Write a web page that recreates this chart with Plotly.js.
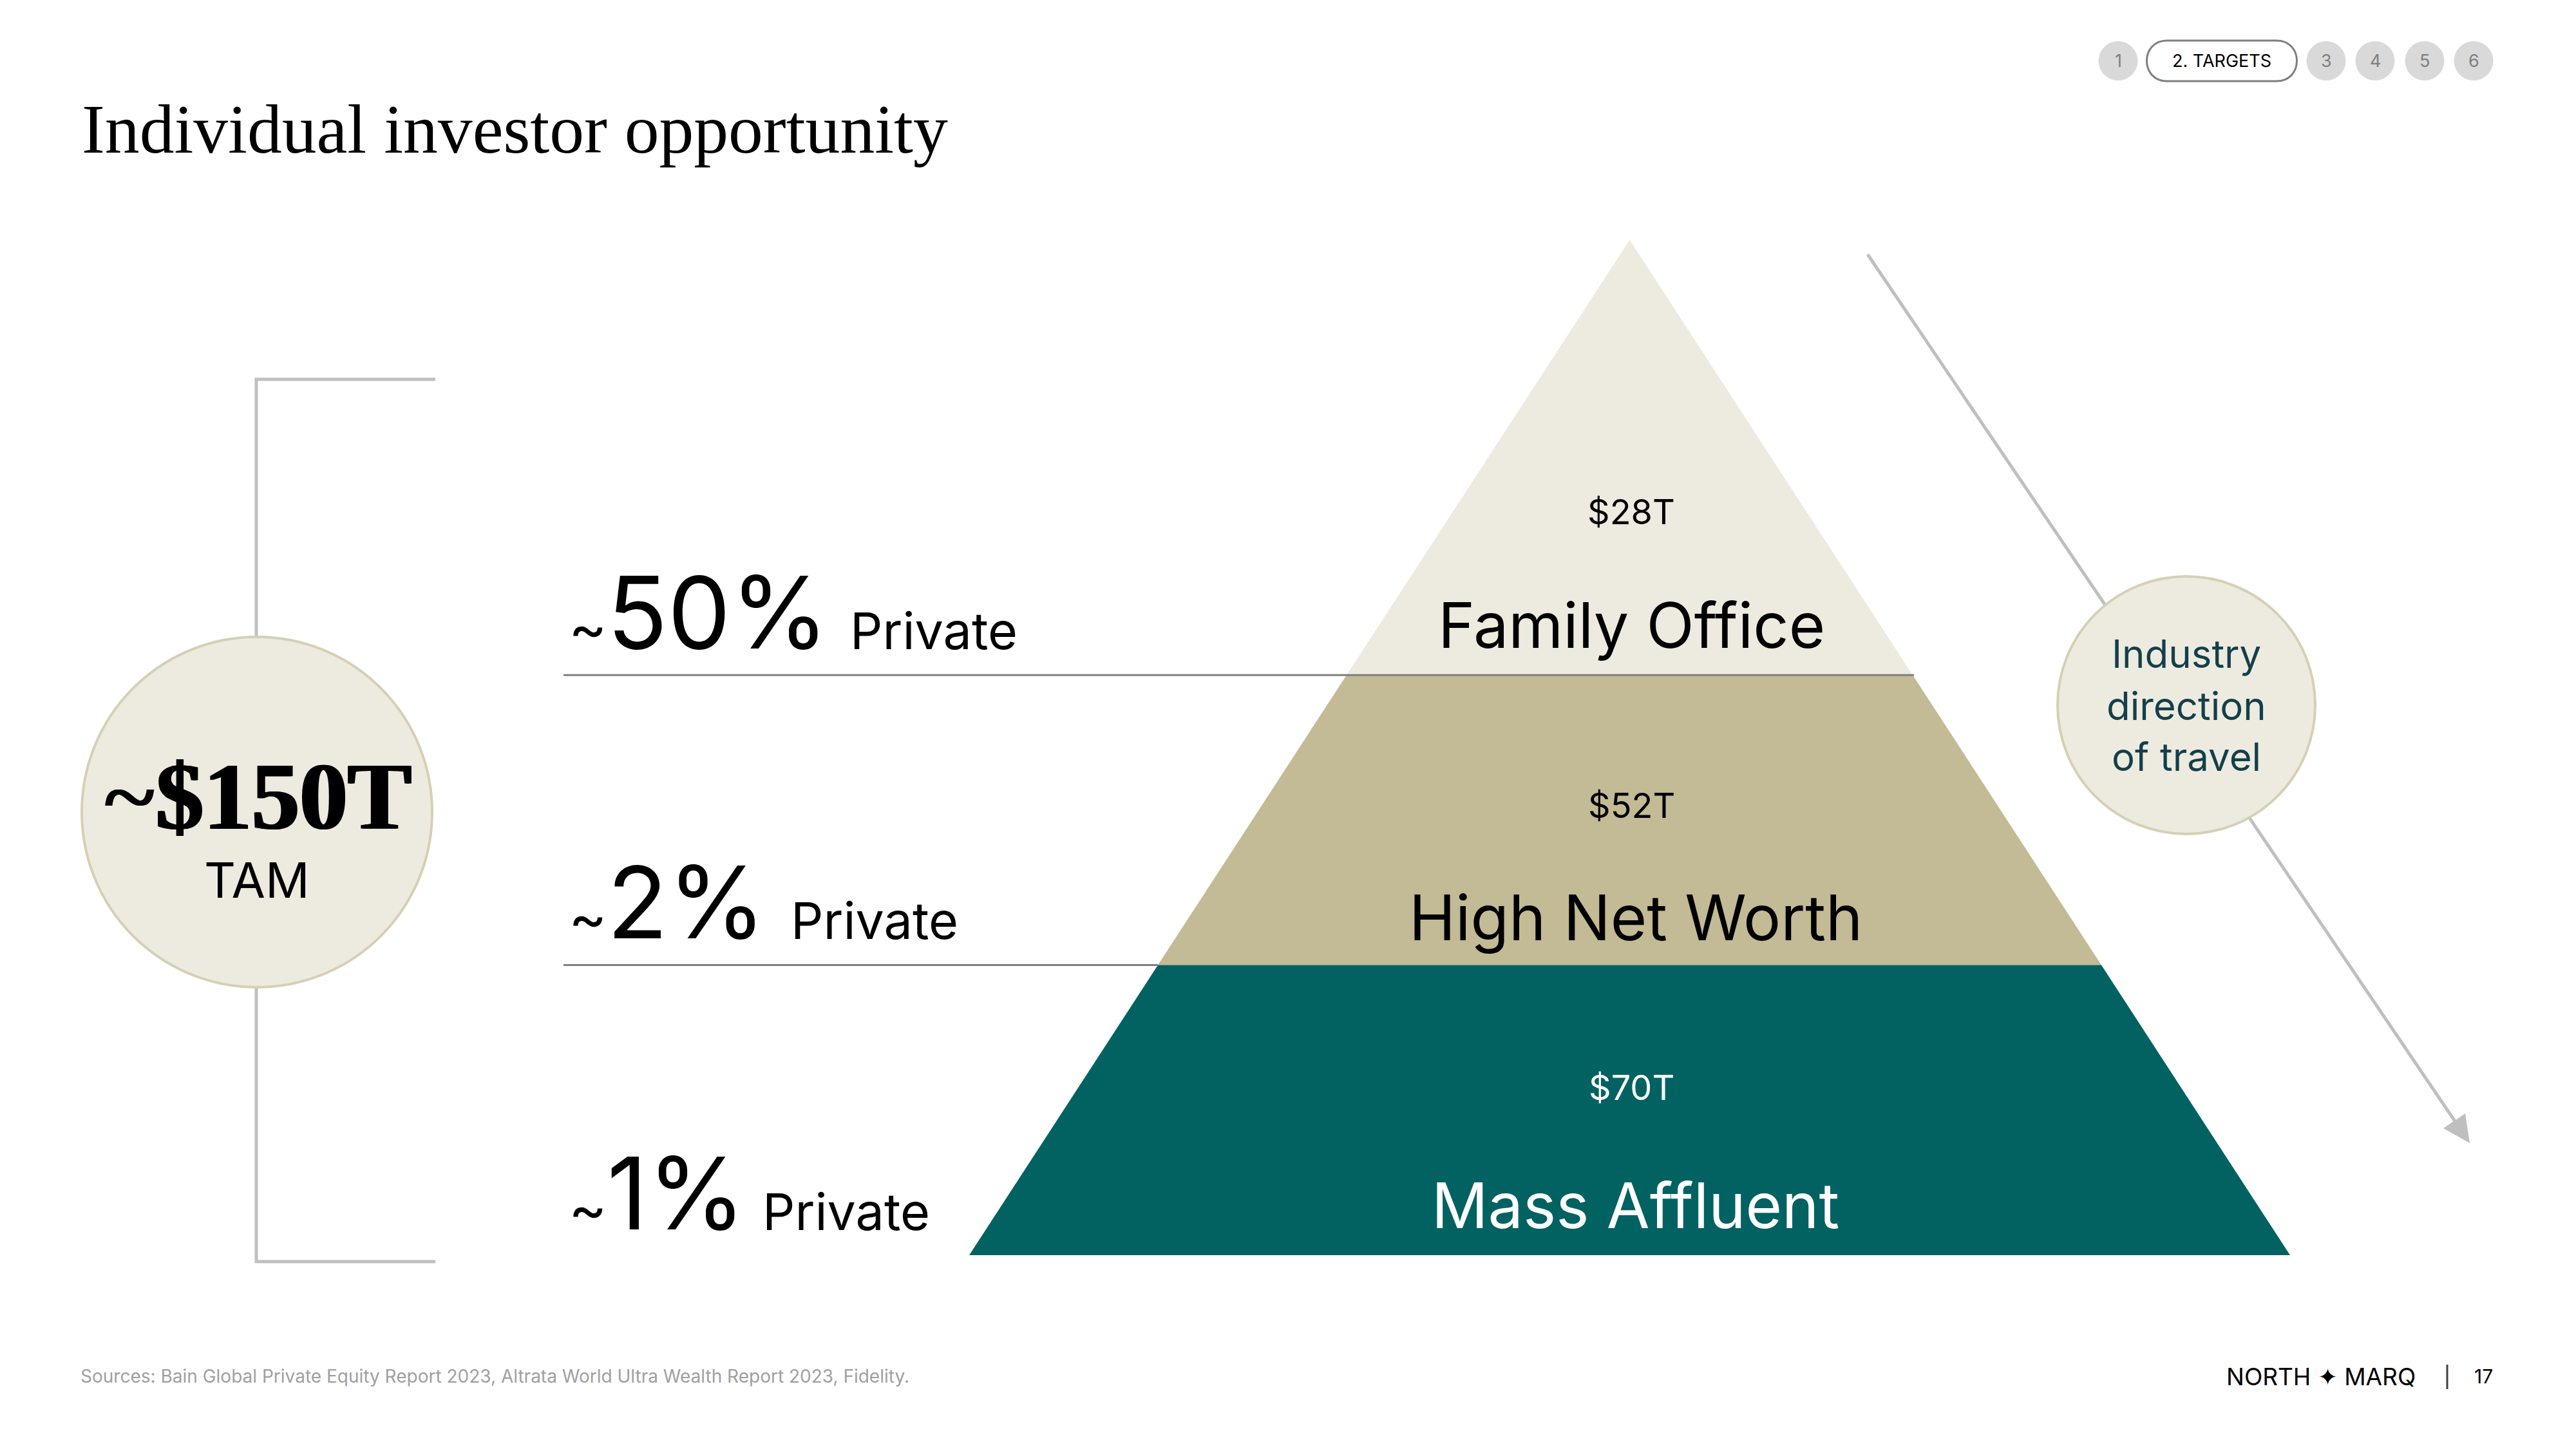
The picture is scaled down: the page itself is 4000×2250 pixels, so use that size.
<!DOCTYPE html>
<html>
<head>
<meta charset="utf-8">
<script src="https://cdn.plot.ly/plotly-3.0.1.min.js"></script>
<style>
html, body { margin: 0; padding: 0; background: #fff; }
</style>
</head>
<body>
<div id="chart" style="width:4000px;height:2250px"></div>
<script>
// chart content
var segments = ['Family Office', 'High Net Worth', 'Mass Affluent'];
var assets = ['$28T', '$52T', '$70T'];
var privateShare = ['50%', '2%', '1%'];
var tierBase = [2, 1, 0];
var tierTop = [3.5, 2, 1];
var tierColors = ['#edebe0', '#c3ba96', '#026262'];
var tierText = ['#000000', '#000000', '#ffffff'];
var navLabels = ['1', '2. TARGETS', '3', '4', '5', '6'];
var bubbleLines = ['Industry', 'direction', 'of travel'];

var SANS = 'Inter, sans-serif';
var SERIF = '"Liberation Serif", serif';
var apex = 3.5;

function halfWidth(level) {
    return (apex - level) / apex;
}

var data = segments.map(function (name, i) {
    return {
        x: [-halfWidth(tierBase[i]), halfWidth(tierBase[i]), halfWidth(tierTop[i]), -halfWidth(tierTop[i]), -halfWidth(tierBase[i])],
        y: [tierBase[i], tierBase[i], tierTop[i], tierTop[i], tierBase[i]],
        xaxis: 'x2',
        yaxis: 'y2',
        name: name,
        mode: 'lines',
        fill: 'toself',
        fillcolor: tierColors[i],
        line: { width: 0 },
        hoverinfo: 'skip',
        showlegend: false
    };
});

function label(text, x, y, size, color, family, anchor) {
    return {
        text: text, x: x, y: y, xref: 'x', yref: 'y',
        xanchor: anchor || 'center', yanchor: 'middle',
        showarrow: false,
        font: { size: size, color: color || '#000', family: family || SANS }
    };
}

function circle(cx, cy, r, fill, border) {
    return {
        type: 'circle', xref: 'x', yref: 'y', layer: 'above',
        x0: cx - r, x1: cx + r, y0: cy - r, y1: cy + r,
        fillcolor: fill,
        line: { color: border || fill, width: border ? 4 : 0 }
    };
}

var lineGrey = '#bfbfbf';
var shapes = [
    // TAM bracket
    { type: 'path', xref: 'x', yref: 'y', layer: 'above', path: 'M676,589 L398,589 L398,1959 L676,1959',
      line: { color: lineGrey, width: 5 } },
    circle(399, 1261, 272, '#edebe0', '#d5d0b4'),
    // direction of travel arrow
    { type: 'line', xref: 'x', yref: 'y', layer: 'above', x0: 2900, y0: 395, x1: 3812, y1: 1741,
      line: { color: lineGrey, width: 5 } },
    { type: 'path', xref: 'x', yref: 'y', layer: 'above', path: 'M3828,1729 L3794,1752 L3835,1775 Z',
      fillcolor: lineGrey, line: { width: 0 } },
    circle(3395, 1095, 200, '#edebe0', '#d5d0b4'),
    // tier rules
    { type: 'line', xref: 'x', yref: 'y2', layer: 'above', x0: 875, x1: 2972, y0: 2, y1: 2,
      line: { color: '#7f7f7f', width: 3 } },
    { type: 'line', xref: 'x', yref: 'y2', layer: 'above', x0: 875, x1: 1798, y0: 1, y1: 1,
      line: { color: '#7f7f7f', width: 3 } },
    // current section pill
    { type: 'path', xref: 'x', yref: 'y', layer: 'above',
      path: 'M3365,63 L3535,63 C3577,63 3577,126 3535,126 L3365,126 C3323,126 3323,63 3365,63 Z',
      fillcolor: '#ffffff', line: { color: '#7f7f7f', width: 3 } },
    // footer divider
    { type: 'line', xref: 'x', yref: 'y', layer: 'above', x0: 3800, x1: 3800, y0: 2119, y1: 2157,
      line: { color: '#404040', width: 3 } }
];

var navX = [3289, 3450, 3612, 3688, 3765, 3841];
navLabels.forEach(function (t, i) {
    if (i !== 1) shapes.push(circle(navX[i], 94.5, 30.5, '#d9d9d9'));
});

var tam = label('~<b>$150T</b>', 400, 1236, 149, '#000', SERIF);
tam.font.shadow = '2px 0 0 #000, -2px 0 0 #000';

var annotations = [
    label('Individual investor opportunity', 125, 200, 107.6, '#000', SERIF, 'left'),
    tam,
    label('TAM', 399, 1366, 76),
    label('Sources: Bain Global Private Equity Report 2023, Altrata World Ultra Wealth Report 2023, Fidelity.', 123, 2137, 28, '#a0a0a0', SANS, 'left'),
    label('NORTH \u2726 MARQ', 3604, 2137, 37),
    label('17', 3856, 2137, 30)
];

navLabels.forEach(function (t, i) {
    annotations.push(label(t, navX[i], 94, 27, i === 1 ? '#000' : '#7f7f7f'));
});

bubbleLines.forEach(function (t, i) {
    annotations.push(label(t, 3395, [1015, 1096, 1175][i], 60, '#143f4a'));
});

var shareY = [950, 1400, 1852];
var privateX = [1318, 1226, 1182];
var nameX = [2533, 2540, 2539];
segments.forEach(function (name, i) {
    annotations.push(label(assets[i], 2533, [794, 1250, 1688][i], 54, tierText[i]));
    annotations.push(label(name, nameX[i], [970, 1424, 1871][i], 97, tierText[i]));
    annotations.push(label('<span style="font-size:90px">~</span>' + privateShare[i], 881, shareY[i], 155, '#000', SANS, 'left'));
    annotations.push(label('Private', privateX[i], shareY[i] + 29, 79, '#000', SANS, 'left'));
});

var layout = {
    width: 4000,
    height: 2250,
    margin: { l: 0, r: 0, t: 0, b: 0 },
    plot_bgcolor: '#ffffff',
    paper_bgcolor: '#ffffff',
    showlegend: false,
    hovermode: false,
    xaxis: { range: [0, 4000], visible: false, fixedrange: true },
    yaxis: { range: [2250, 0], visible: false, fixedrange: true },
    xaxis2: { range: [-1, 1], domain: [1505 / 4000, 3556 / 4000], visible: false, fixedrange: true, anchor: 'y2' },
    yaxis2: { range: [0, apex], domain: [1 - 1949 / 2250, 1 - 372.5 / 2250], visible: false, fixedrange: true, anchor: 'x2' },
    shapes: shapes,
    annotations: annotations
};

Plotly.newPlot('chart', data, layout, { displayModeBar: false, staticPlot: true });
</script>
</body>
</html>
